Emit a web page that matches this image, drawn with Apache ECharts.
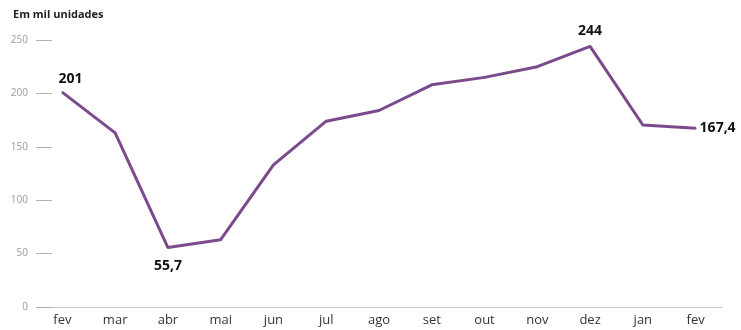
<!DOCTYPE html>
<html><head><meta charset="utf-8">
<script src="https://cdn.jsdelivr.net/npm/echarts@6/dist/echarts.min.js"></script>
<style>html,body{margin:0;padding:0;background:#fff}#c{width:741px;height:330px}</style>
</head><body><div id="c"></div>
<script>
const categories = ['fev','mar','abr','mai','jun','jul','ago','set','out','nov','dez','jan','fev'];
const values = [201, 163, 55.7, 63, 133, 174, 184, 208, 215, 225, 244, 170.4, 167.4];
const labelledIdx = [0, 2, 10, 12];
const yTicks = [0, 50, 100, 150, 200, 250];

const labelPos = {0: {position: 'top', offset: [8, 0]}, 2: {position: 'bottom', offset: [0, 6]}, 10: {position: 'top', offset: [0, -2]}, 12: {position: 'right', offset: [-2, 0]}};
const fmt = v => String(v).replace('.', ',');

const data = values.map((v, i) => {
  if (labelledIdx.indexOf(i) < 0) return v;
  return {value: v, label: Object.assign({show: true, formatter: () => fmt(v), color: '#111', fontWeight: 'bold', fontSize: 14, fontFamily: 'Open Sans'}, labelPos[i])};
});

const chart = echarts.init(document.getElementById('c'));
chart.setOption({
  animation: false,
  title: {text: 'Em mil unidades', left: 8, top: 4, textStyle: {fontSize: 11, fontWeight: 'bold', color: '#222', fontFamily: 'Open Sans'}},
  grid: {left: 36, right: 19, top: 40, bottom: 23},
  xAxis: {
    type: 'category', data: categories, boundaryGap: true,
    axisLine: {lineStyle: {color: '#c8c8c8', width: 1}},
    axisTick: {alignWithLabel: true, inside: true, length: 5, lineStyle: {color: '#bbb'}},
    axisLabel: {color: '#333', fontSize: 13, margin: 7, fontFamily: 'Open Sans'}
  },
  yAxis: {
    type: 'value', min: yTicks[0], max: yTicks[yTicks.length - 1], interval: 50,
    axisLine: {show: false},
    axisTick: {show: true, inside: true, length: 16, lineStyle: {color: '#b0b0b0'}},
    splitLine: {show: false},
    axisLabel: {color: '#999', fontSize: 10, margin: 8, fontFamily: 'Open Sans'}
  },
  series: [{
    type: 'line', data: data, symbol: 'circle', symbolSize: 2, showSymbol: true,
    itemStyle: {color: '#7b4a8c'},
    lineStyle: {color: '#7b4a8c', width: 3}
  }]
});
</script></body></html>
